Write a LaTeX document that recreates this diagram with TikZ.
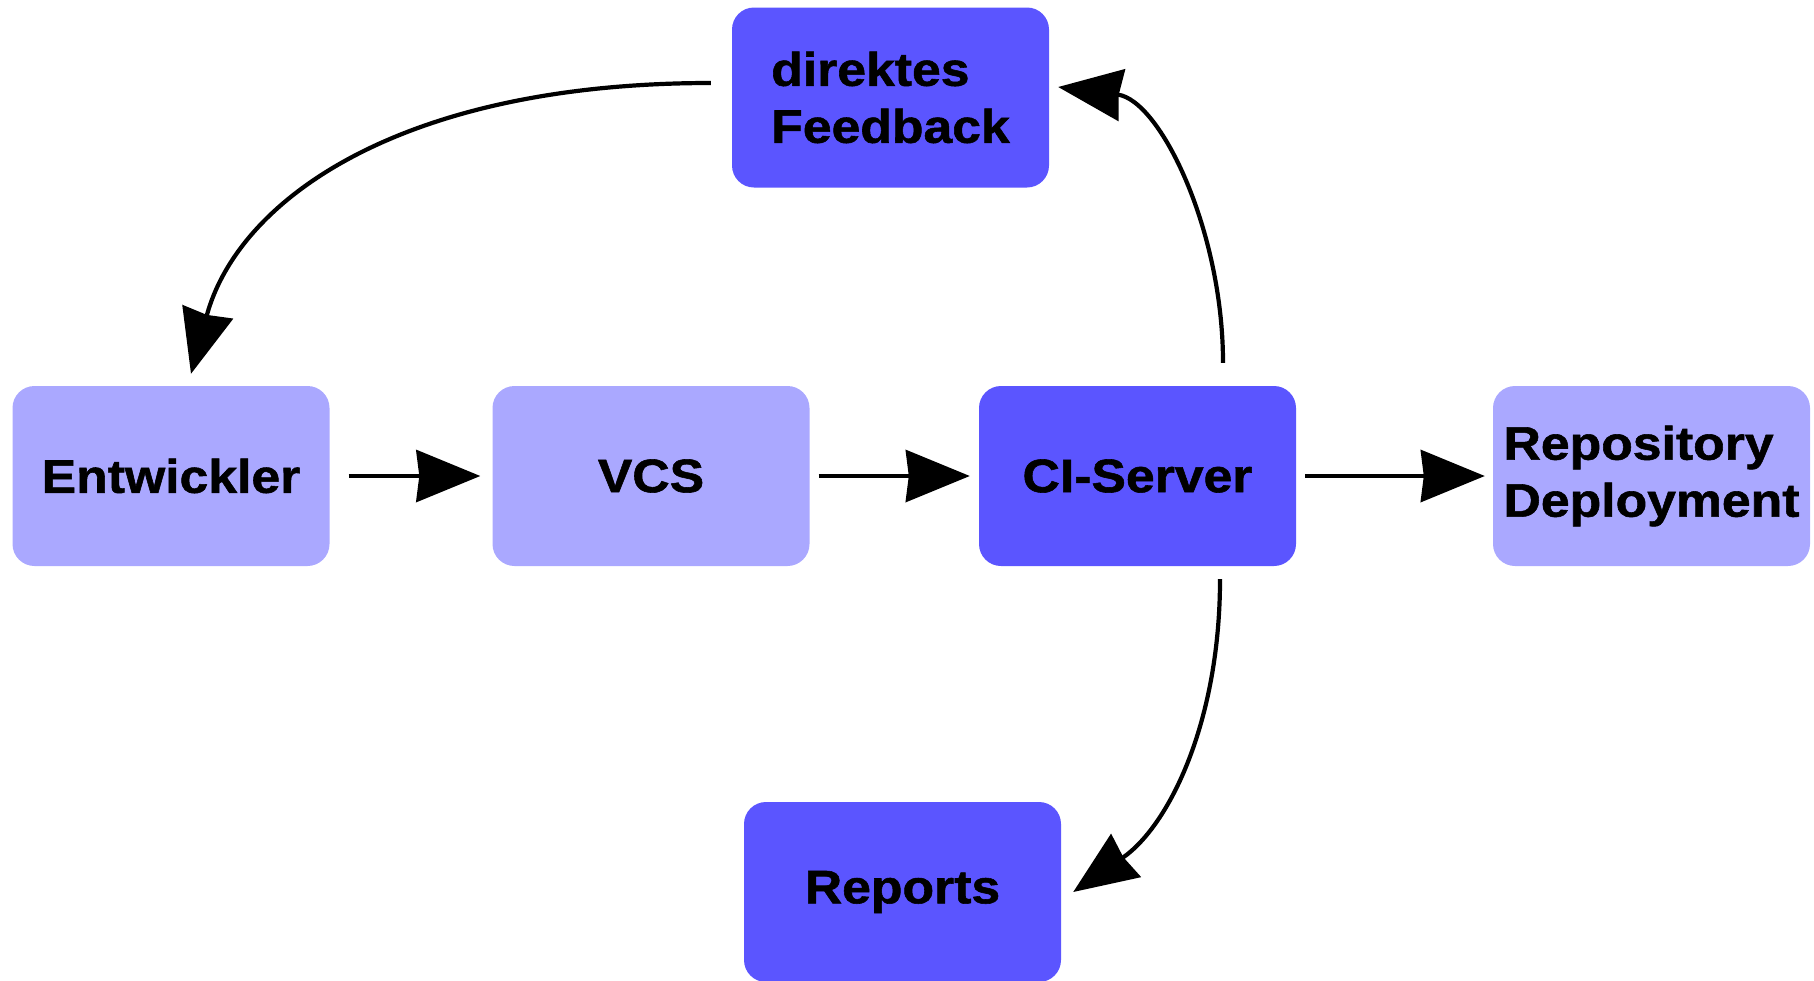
\documentclass[tikz,border=0pt]{standalone}
\usepackage{fontspec}
\setmainfont{Liberation Sans}[FakeStretch=1.1,FakeBold=1.2]
\usetikzlibrary{arrows.meta,calc}
\definecolor{boxdark}{RGB}{91,85,255}
\definecolor{boxlight}{RGB}{170,168,255}
\begin{document}
\begin{tikzpicture}[x=1pt,y=-1pt,
  box/.style={rounded corners=22pt, minimum width=317pt, minimum height=180pt, inner sep=0pt,
    font=\fontsize{47}{57}\selectfont\bfseries, align=left},
  dark/.style={box, fill=boxdark},
  light/.style={box, fill=boxlight},
  arr/.style={line width=4.2pt, -{Stealth[length=64pt,width=52pt,inset=3pt]}}]
\useasboundingbox (0,0) rectangle (1814,980);
\node[dark] (fb) at (890.5,97.5) {direktes\\Feedback};
\node[light] (ent) at (171,476) {Entwickler};
\node[light] (vcs) at (651,476) {VCS};
\node[dark] (ci) at (1137.5,476) {CI-Server};
\node[light] (repo) at (1651.5,476) {Repository\\Deployment};
\node[dark] (rep) at (902.5,892) {Reports};
\draw[arr, shorten <=19pt, shorten >=12pt] (ent) -- (vcs);
\draw[arr, shorten <=9pt, shorten >=9pt] (vcs) -- (ci);
\draw[arr, shorten <=9pt, shorten >=8pt] (ci) -- (repo);
\coordinate (fbA) at ($(fb.west)+(-21,-14.5)$);
\coordinate (entT) at ($(ent.north)+(20,-12)$);
\coordinate (ciT) at ($(ci.north)+(85.5,-23)$);
\coordinate (fbE) at ($(fb.east)+(9,-10.5)$);
\coordinate (ciB) at ($(ci.south)+(82.5,13)$);
\coordinate (repE) at ($(rep.east)+(12,0)$);
\draw[arr] (fbA) .. controls (400,83) and (238,200) .. (entT);
\draw[arr] (ciT) .. controls (1223,230) and (1160,100) .. (fbE);
\draw[arr] (ciB) .. controls (1220,720) and (1170,825) .. (repE);
\end{tikzpicture}
\end{document}
